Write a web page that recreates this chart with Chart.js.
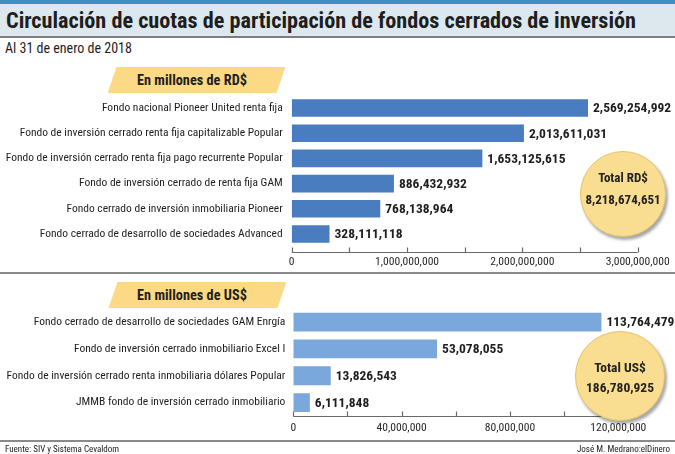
<!DOCTYPE html>
<html><head><meta charset="utf-8">
<script src="https://cdn.jsdelivr.net/npm/chart.js@4.4.0/dist/chart.umd.min.js"></script>
<style>
html,body{margin:0;padding:0;background:#fff;}
body{width:675px;height:454px;position:relative;overflow:hidden;font-family:"Roboto Condensed",sans-serif;color:#222;}
.abs{position:absolute;}
#stripe{left:0;top:0;width:675px;height:4px;background:#3f8fbd;}
#band{left:0;top:4px;width:675px;height:32px;background:#dde8ee;}
#bandline{left:0;top:36px;width:675px;height:2px;background:#7d7d7d;}
#title{left:6px;top:5px;font-size:22.2px;font-weight:bold;line-height:30px;color:#1e1e1e;white-space:nowrap;}
#sub{left:5px;top:40px;font-size:14px;line-height:16px;color:#1e1e1e;}
.para{width:169px;height:26px;background:#fbd985;transform:skewX(-19deg);}
.ptxt{width:160px;height:26px;line-height:26px;text-align:center;font-size:14.3px;font-weight:bold;color:#1e1e1e;}
.sep{left:0;width:675px;height:1.5px;background:#8a8a8a;}
.circle{border-radius:50%;background:#f9dd90;border:1px solid #e6c36c;box-shadow:2px 3px 3px rgba(0,0,0,0.35);text-align:center;font-weight:bold;color:#222;}
.foot{top:443px;font-size:9px;line-height:12px;color:#222;}
canvas{position:absolute;left:0;}
</style></head>
<body>
<div id="stripe" class="abs"></div>
<div id="band" class="abs"></div>
<div id="bandline" class="abs"></div>
<div id="title" class="abs">Circulación de cuotas de participación de fondos cerrados de inversión</div>
<div id="sub" class="abs">Al 31 de enero de 2018</div>

<div class="abs para" style="left:112px;top:67px;"></div>
<div class="abs ptxt" style="left:112px;top:67px;">En millones de RD$</div>

<canvas id="c1" width="675" height="185" style="top:90px;"></canvas>
<div class="abs sep" style="top:272px;"></div>

<div class="abs para" style="left:113px;top:282px;"></div>
<div class="abs ptxt" style="left:112px;top:282px;">En millones de US$</div>

<canvas id="c2" width="675" height="160" style="top:280px;"></canvas>
<div class="abs sep" style="top:440px;"></div>

<div id="circ1" class="abs circle" style="left:580px;top:151px;width:84px;height:84px;">
  <div style="font-size:13px;margin-top:17px;line-height:18px;">Total RD$</div>
  <div style="font-size:13px;margin-top:4px;line-height:18px;">8,218,674,651</div>
</div>
<div id="circ2" class="abs circle" style="left:575px;top:331px;width:88px;height:88px;">
  <div style="font-size:13.5px;margin-top:26px;line-height:18px;">Total US$</div>
  <div style="font-size:13.5px;margin-top:2px;line-height:18px;">186,780,925</div>
</div>

<div class="abs foot" style="left:5px;">Fuente: SIV y Sistema Cevaldom</div>
<div class="abs foot" style="right:5px;">José M. Medrano:elDinero</div>

<script>
const rdCategories = [
  "Fondo nacional Pioneer United renta fija",
  "Fondo de inversión cerrado renta fija capitalizable Popular",
  "Fondo de inversión cerrado renta fija pago recurrente Popular",
  "Fondo de inversión cerrado de renta fija GAM",
  "Fondo cerrado de inversión inmobiliaria Pioneer",
  "Fondo cerrado de desarrollo de sociedades Advanced"
];
const rdValues = [2569254992, 2013611031, 1653125615, 886432932, 768138964, 328111118];
const rdTicks = { max: 3000000000, step: 500000000, labelStep: 1000000000 };

const usCategories = [
  "Fondo cerrado de desarrollo de sociedades GAM Enrgía",
  "Fondo de inversión cerrado inmobiliario Excel I",
  "Fondo de inversión cerrado renta inmobiliaria dólares Popular",
  "JMMB fondo de inversión cerrado inmobiliario"
];
const usValues = [113764479, 53078055, 13826543, 6111848];
const usTicks = { max: 120000000, step: 20000000, labelStep: 40000000 };

const FONT = '"Roboto Condensed",sans-serif';
const fmt = v => v.toLocaleString('en-US');

const valueLabels = {
  id: 'valueLabels',
  afterDatasetsDraw(chart) {
    const ctx = chart.ctx;
    const meta = chart.getDatasetMeta(0);
    const data = chart.data.datasets[0].data;
    ctx.save();
    ctx.font = 'bold 13.5px ' + FONT;
    ctx.fillStyle = '#1e1e1e';
    ctx.textAlign = 'left';
    ctx.textBaseline = 'middle';
    meta.data.forEach((bar, i) => {
      ctx.fillText(fmt(data[i]), bar.x + 5, bar.y + 1);
    });
    ctx.restore();
  }
};

const axisLine = {
  id: 'axisLine',
  afterDraw(chart, args, opts) {
    const ctx = chart.ctx;
    const xs = chart.scales.x;
    const y = Math.round(chart.chartArea.bottom + (opts.offset || 0)) + 0.5;
    ctx.save();
    ctx.strokeStyle = '#6a6a6a';
    ctx.lineWidth = 1.2;
    ctx.beginPath();
    ctx.moveTo(xs.getPixelForValue(xs.min), y);
    ctx.lineTo(xs.getPixelForValue(xs.max), y);
    xs.ticks.forEach(t => {
      const x = Math.round(xs.getPixelForValue(t.value)) + 0.5;
      ctx.moveTo(x, y);
      ctx.lineTo(x, y - 5);
    });
    ctx.stroke();
    ctx.restore();
  }
};

function makeChart(id, cats, vals, tk, color, cfg) {
  return new Chart(document.getElementById(id), {
    type: 'bar',
    data: { labels: cats, datasets: [{ data: vals, backgroundColor: color, borderWidth: 0, barPercentage: cfg.barPct, categoryPercentage: 1 }] },
    options: {
      indexAxis: 'y',
      responsive: false,
      animation: false,
      events: [],
      layout: { padding: { left: 0, right: cfg.padRight, top: cfg.padTop, bottom: 0 } },
      plugins: { legend: { display: false }, tooltip: { enabled: false }, axisLine: { offset: cfg.axisOffset } },
      scales: {
        x: {
          min: 0, max: tk.max,
          grid: { display: false, drawTicks: false },
          border: { display: false },
          ticks: {
            stepSize: tk.step,
            autoSkip: false,
            maxRotation: 0,
            padding: cfg.xPad,
            color: '#2a2a2a',
            font: { family: FONT, size: 11.6 },
            callback: v => (v % tk.labelStep === 0 ? fmt(v) : '')
          },
          afterFit: s => { s.height = cfg.xHeight; s.paddingLeft = 0; s.paddingRight = 0; }
        },
        y: {
          grid: { display: false, drawTicks: false },
          border: { display: false },
          ticks: { padding: cfg.yPad, color: '#1e1e1e', font: { family: FONT, size: 11.5 }, autoSkip: false },
          afterFit: s => { s.width = cfg.yWidth; s.paddingTop = 0; s.paddingBottom = 0; }
        }
      }
    },
    plugins: [valueLabels, axisLine]
  });
}

makeChart('c1', rdCategories, rdValues, rdTicks, '#4a7dbf',
  { barPct: 0.7, padRight: 37.3, padTop: 5.4, xHeight: 28.4, xPad: 9, yPad: 9, yWidth: 291.7, axisOffset: 5 });
makeChart('c2', usCategories, usValues, usTicks, '#7aa7dc',
  { barPct: 0.7, padRight: 56.7, padTop: 28.7, xHeight: 24, xPad: 5, yPad: 8, yWidth: 293.3, axisOffset: 0 });
</script>
</body></html>
